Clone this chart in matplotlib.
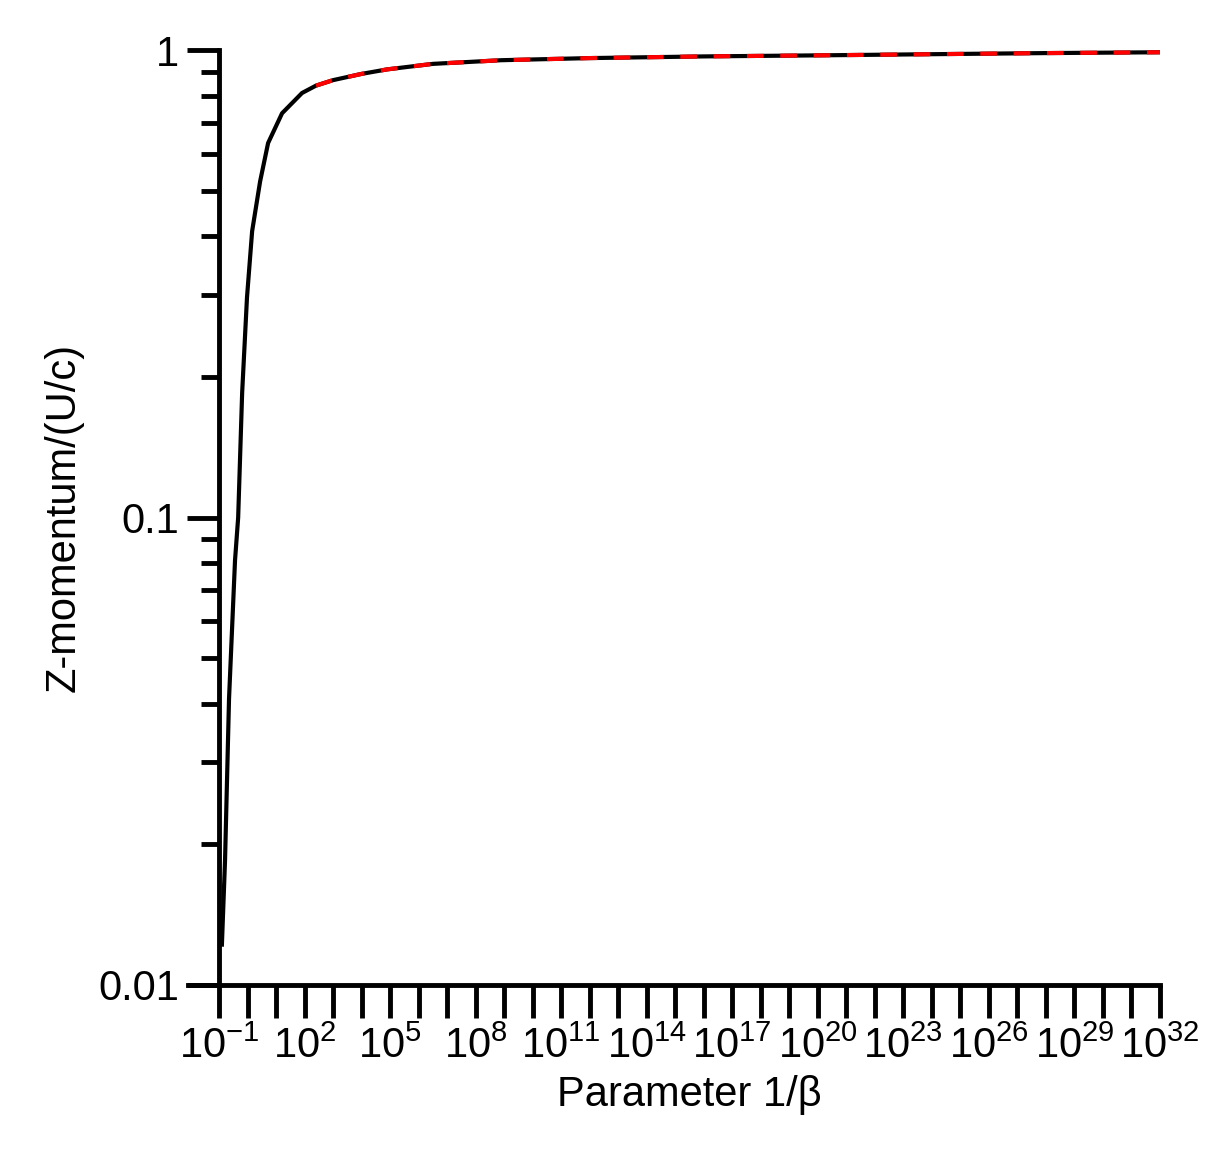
import numpy as np
import matplotlib
matplotlib.use('Agg')
import matplotlib.pyplot as plt
from matplotlib.lines import Line2D

plt.rcParams['font.family'] = ['Liberation Sans', 'DejaVu Sans']
plt.rcParams['mathtext.fontset'] = 'custom'
plt.rcParams['mathtext.rm'] = 'Liberation Sans'
plt.rcParams['mathtext.it'] = 'Liberation Sans'
plt.rcParams['axes.unicode_minus'] = False

# curve (log10 of 1/beta, momentum)
log_x = [-0.9, -0.79, -0.65, -0.44, -0.33, -0.19, -0.02, 0.16, 0.44, 0.72, 1.21,
         1.91, 2.4, 3.0, 4.0, 4.9, 6.5, 8.9, 12.0, 16.0, 20.0, 25.0, 28.0, 32.0]
z_mom = [0.0122, 0.0185, 0.041, 0.081, 0.1, 0.185, 0.296, 0.41, 0.524, 0.633, 0.733,
         0.81, 0.84, 0.863, 0.89, 0.91, 0.935, 0.952, 0.962, 0.97, 0.975, 0.982,
         0.986, 0.99]
dash_start = 12  # red dashed overlay starts around 10^2.4

x = 10.0 ** np.array(log_x)
y = np.array(z_mom)

fig = plt.figure(figsize=(12.19, 11.68), dpi=100)
ax = fig.add_axes([0.1797, 0.1567, 0.9516 - 0.1797, 0.957 - 0.1567])
ax.plot(x, y, color='black', lw=3)
ax.plot(x[dash_start:], y[dash_start:], color='red', lw=3, ls=(0, (4, 4)))

ax.set_xscale('log')
ax.set_yscale('log')
ax.set_xlim(1e-1, 1e32)
ax.set_ylim(0.01, 1)

for s in ['top', 'right']:
    ax.spines[s].set_visible(False)
for s in ['left', 'bottom']:
    ax.spines[s].set_linewidth(3.5)
ax.add_line(Line2D([-0.033, 0], [0, 0], transform=ax.transAxes, color='black',
                   lw=3.5, clip_on=False))

ax.set_xticks([10.0 ** k for k in range(-1, 33)])
ax.set_xticklabels([f'$10^{{{k}}}$' if (k + 1) % 3 == 0 else '' for k in range(-1, 33)])
ax.xaxis.set_minor_locator(matplotlib.ticker.NullLocator())
ax.set_yticks([0.01, 0.1, 1])
ax.set_yticklabels(['0.01', '0.1', '1'])
ax.tick_params(axis='x', which='major', length=24, width=3.5, labelsize=30,
               direction='out', pad=6)
ax.tick_params(axis='y', which='major', length=23, width=3.5, labelsize=30, pad=6)
ax.tick_params(axis='y', which='minor', length=13, width=3.5)
ax.set_xlabel('Parameter 1/β', fontsize=30, labelpad=6)
ax.set_ylabel('Z-momentum/(U/c)', fontsize=30, labelpad=10)

fig.savefig('out.png', dpi=100)
